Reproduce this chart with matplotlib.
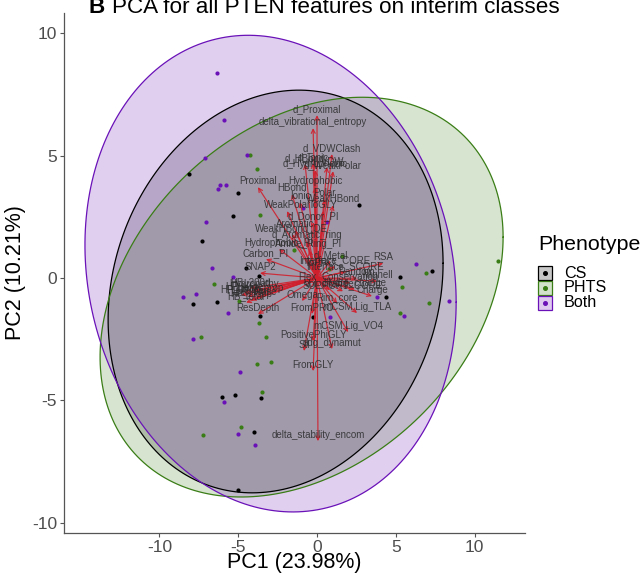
import numpy as np
import matplotlib
matplotlib.use("Agg")
import matplotlib.pyplot as plt
from matplotlib.patches import Rectangle
from matplotlib.lines import Line2D

plt.rcParams['font.family'] = ['Liberation Sans', 'DejaVu Sans']
plt.rcParams['axes.unicode_minus'] = False

# ---------------- data ----------------
groups = ["CS", "PHTS", "Both"]
group_colors = {"CS": "#000000", "PHTS": "#3a7d16", "Both": "#6a12b8"}

# individual scores (PC1, PC2)
cs_x = [-8.13, -5.02, -5.33, -7.30, -4.51, -7.87, -6.35, -6.03, -5.21, -4.00,
        -5.02, -3.68, 2.67, -3.62, -0.25, 4.38, 7.30, -3.56, 5.27]
cs_y = [4.24, 3.47, 2.53, 1.51, 0.41, -1.06, -0.98, -4.86, -4.78, -6.29,
        -8.65, 0.08, 2.98, -1.55, -1.59, -0.78, 0.29, -4.90, 0.04]
phts_x = [-4.25, -3.81, -6.54, -4.95, -7.37, -3.81, -4.83, -7.24, -3.68, -3.24,
          -2.92, -3.49, -3.62, -1.46, 1.59, 0.76, 5.40, 5.27, 6.92, 11.49, 7.11]
phts_y = [5.02, 4.45, -0.24, -0.94, -2.41, -3.51, -6.08, -6.41, -1.84, -2.41,
          -3.43, -4.65, 2.57, 1.14, 0.90, 0.37, -0.37, -1.43, 0.20, 0.69, -1.02]
both_x = [-6.35, -5.90, -7.11, -4.44, -6.16, -5.78, -6.29, -7.05, -6.67, -5.33,
          -8.51, -7.68, -5.65, -7.87, -4.89, -5.90, -5.02, -3.94, -0.89, 0.63,
          0.83, 3.81, 5.52, 6.29, 8.38]
both_y = [8.37, 6.45, 4.90, 5.02, 3.80, 3.80, 3.63, 2.29, 0.41, 0.04,
          -0.78, -0.65, -1.43, -2.49, -3.84, -5.06, -6.37, -6.82, 2.86, 2.29,
          -1.59, -0.78, -1.55, 0.57, -0.94]

# confidence ellipses: centre, half-width, half-height, correlation
ell_cx = {"CS": -2.63, "PHTS": -0.98, "Both": -2.95}
ell_cy = {"CS": -0.55, "PHTS": -0.78, "Both": 0.18}
ell_w = {"CS": 10.63, "PHTS": 12.79, "Both": 11.78}
ell_h = {"CS": 8.22, "PHTS": 8.16, "Both": 9.73}
ell_r = {"CS": 0.14, "PHTS": 0.30, "Both": -0.12}

# variable loadings (arrow tips)
var_names = ["d_Proximal", "delta_vibrational_entropy", "d_VDWClash", "d_HBond",
             "d_Ionic", "d_VDW", "d_WeakPolar", "d_Hydrophobic", "Proximal",
             "Hydrophobic", "HBond", "Polar", "Ionic", "WeakHBond", "WeakPolar",
             "ToGLY", "d_Donor_PI", "Aromatic", "WeakHBond_DE", "d_Aromatic_ring",
             "Hydrophobic_PI", "Amide_Ring_PI", "Carbon_PI", "SNAP2",
             "Interface_CORE", "RSA", "Mighell", "Random", "SUPPORT_CORE",
             "Charge", "Rim_core", "Omega", "HB_200d",
             "HP_Kyte", "HP_Eisen", "HP_Hopp", "HP_Janin", "HP_Rose", "HB_total",
             "Helix_prop", "Hydropathy",
             "d_Metal", "ToPRO", "Interface_SCORE", "Conservation", "Hydro_change",
             "Vol_change", "Flex",
             "ResDepth", "FromPRO", "mCSM.Lig_TLA", "mCSM.Lig_VO4",
             "PositivePhiGLY", "Stl", "ddg_dynamut", "FromGLY",
             "delta_stability_encom"]
var_x = [0.00, -0.25, 0.95, -0.76,
         -0.25, 0.63, 1.02, -0.10, -3.75,
         -0.13, -1.59, 0.50, -1.08, 1.02, -1.90,
         0.38, -0.25, -1.40, -1.59, -0.63,
         -2.41, -0.51, -3.24, -3.62,
         1.14, 4.20, 3.81, 2.54, 1.65,
         3.49, 1.27, -0.95, -4.25,
         -4.60, -4.40, -4.20, -4.80, -3.90, -4.50,
         -3.60, -4.00,
         0.85, 0.20, 1.80, 2.10, 2.40,
         0.80, -0.60,
         -3.75, -0.32, 2.54, 1.97,
         -0.25, -0.83, 0.95, -0.25,
         0.06]
var_y = [6.65, 6.12, 5.06, 4.65,
         4.69, 4.53, 4.36, 4.40, 3.71,
         3.71, 3.42, 3.22, 3.10, 2.97, 2.73,
         2.73, 2.28, 1.95, 1.79, 1.51,
         1.18, 1.14, 0.77, 0.20,
         0.48, 0.60, -0.13, -0.01, -0.54,
         -0.74, -1.03, -0.94, -0.41,
         -0.60, -0.75, -0.90, -0.70, -0.80, -1.00,
         -0.65, -0.50,
         0.70, 0.35, 0.25, -0.20, -0.45,
         -0.50, -0.20,
         -1.47, -1.47, -1.43, -2.21,
         -2.58, -2.98, -2.90, -3.80,
         -6.66]

x_ticks = [-10, -5, 0, 5, 10]
y_ticks = [-10, -5, 0, 5, 10]

# ---------------- figure ----------------
fig = plt.figure(figsize=(6.44, 5.73), dpi=100)
ax = fig.add_axes([64 / 644, 40 / 573, (525 - 64) / 644, (533 - 13) / 573])
ax.set_xlim(-16.06, 13.2)
ax.set_ylim(-10.41, 10.82)

t = np.linspace(0, 2 * np.pi, 240)
for g in groups:
    col = group_colors[g]
    ex = ell_cx[g] + ell_w[g] * np.cos(t)
    ey = ell_cy[g] + ell_h[g] * (ell_r[g] * np.cos(t) + np.sqrt(1 - ell_r[g] ** 2) * np.sin(t))
    ax.fill(ex, ey, facecolor=col, alpha=0.2, edgecolor='none', zorder=1)
    ax.plot(ex, ey, color=col, lw=0.9, zorder=2)

pts = {"CS": (cs_x, cs_y), "PHTS": (phts_x, phts_y), "Both": (both_x, both_y)}
for g in groups:
    ax.scatter(pts[g][0], pts[g][1], s=9, color=group_colors[g], zorder=3, linewidths=0)

for name, vx, vy in zip(var_names, var_x, var_y):
    ax.annotate('', xy=(vx, vy), xytext=(0, 0),
                arrowprops=dict(arrowstyle='->', color='#d11f2c', lw=0.85,
                                mutation_scale=7, shrinkA=0, shrinkB=0, alpha=0.9),
                zorder=4)
for name, vx, vy in zip(var_names, var_x, var_y):
    ax.text(vx, vy + 0.25, name, fontsize=7, color='#2a2a2a', ha='center', va='center',
            alpha=0.85, zorder=5)

for s in ['top', 'right']:
    ax.spines[s].set_visible(False)
for s in ['left', 'bottom']:
    ax.spines[s].set_color('#555555')
    ax.spines[s].set_linewidth(0.9)
ax.set_xticks(x_ticks)
ax.set_yticks(y_ticks)
ax.tick_params(axis='both', length=3, width=0.8, color='#555555', labelsize=12.5,
               labelcolor='#4d4d4d', pad=2)
ax.set_xlabel("PC1 (23.98%)", fontsize=15.5, color='black', labelpad=-2)
ax.set_ylabel("PC2 (10.21%)", fontsize=15.5, color='black', labelpad=4)

# legend
fig.text(538 / 644, 1 - 245 / 573, "Phenotype", fontsize=15.4, ha='left', va='center')
key_y = [273, 288, 303]
for g, ky in zip(groups, key_y):
    col = group_colors[g]
    fig.add_artist(Rectangle((538 / 644, 1 - (ky + 7) / 573), 14 / 644, 14 / 573,
                             transform=fig.transFigure, facecolor=col, alpha=0.22,
                             edgecolor='none'))
    fig.add_artist(Rectangle((538 / 644, 1 - (ky + 7) / 573), 14 / 644, 14 / 573,
                             transform=fig.transFigure, facecolor='none',
                             edgecolor=col, lw=0.9))
    fig.add_artist(Line2D([545 / 644], [1 - ky / 573], marker='o', markersize=2.6,
                          color=col, transform=fig.transFigure, lw=0))
    fig.text(564 / 644, 1 - ky / 573, g, fontsize=11.6, ha='left', va='center')

# title (cut by top edge in reference)
fig.text(88 / 644, 1 - 13 / 573, "B", fontsize=16.2, fontweight='bold', ha='left',
         va='baseline')
fig.text(112 / 644, 1 - 13 / 573, "PCA for all PTEN features on interim classes",
         fontsize=16.2, ha='left', va='baseline')

fig.savefig("out.png", dpi=100)
